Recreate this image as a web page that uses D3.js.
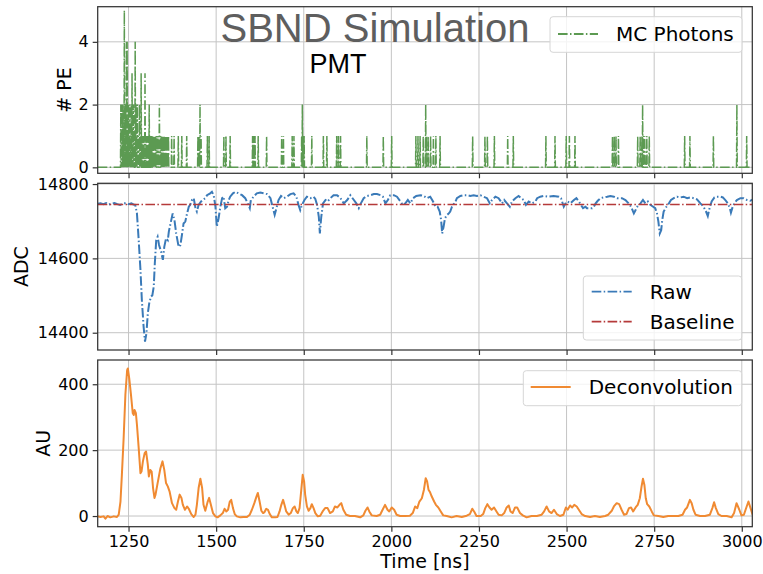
<!DOCTYPE html>
<html>
<head>
<meta charset="utf-8">
<script src="https://cdn.jsdelivr.net/npm/d3@7"></script>
<style>
  body { margin: 0; background: #fff; }
  svg text { font-family: "DejaVu Sans", sans-serif; fill: #000; }
</style>
</head>
<body>
<div id="chart"></div>
<script>
// tick values
var timeTicks = [1250, 1500, 1750, 2000, 2250, 2500, 2750, 3000];
var peTicks = [0, 2, 4];
var adcTicks = [14400, 14600, 14800];
var auTicks = [0, 200, 400];

// MC photons: [time ns, # PE]
var photons = [
  [1228,2],[1230,1],[1232,2],[1234,2],[1236,1],[1238,5],[1240,2],[1242,2],[1244,4],[1246,4],
  [1248,1],[1250,2],[1252,1],[1254,2],[1256,1],[1258,2],[1260,3],[1262,1],[1264,2],[1266,1],
  [1269,4],[1271,2],[1273,1],[1275,2],[1278,1],[1281,2],[1284,1],[1286,3],[1289,1],[1292,1],
  [1294,1],[1297,3],[1300,1],[1303,1],[1306,1],[1309,2],[1312,1],[1315,1],[1318,1],[1321,1],
  [1324,1],[1327,1],[1330,1],[1334,1],[1338,2],[1341,1],[1344,1],[1348,1],[1352,1],[1356,1],
  [1360,1],[1364,1],[1373,1],[1380,1],[1392,1],[1402,1],[1416,1],[1448,1],[1451,1],[1454,2],
  [1457,1],[1475,1],[1480,1],[1522,1],[1528,1],[1540,1],[1604,1],[1608,1],[1611,1],[1620,1],
  [1644,1],[1687,1],[1692,1],[1717,1],[1722,1],[1744,1],[1746,2],[1748,1],[1751,1],[1773,1],
  [1806,1],[1816,1],[1844,1],[1849,1],[1855,1],[1930,1],[1977,1],[2001,1],[2070,1],[2076,1],
  [2082,1],[2091,1],[2098,2],[2100,1],[2105,1],[2112,1],[2120,1],[2127,1],[2139,1],[2232,1],
  [2267,1],[2274,1],[2294,1],[2332,1],[2348,1],[2441,1],[2467,1],[2499,1],[2508,1],[2524,1],
  [2631,1],[2636,1],[2641,1],[2648,1],[2703,1],[2710,1],[2715,1],[2717,2],[2720,1],[2723,1],
  [2729,1],[2736,1],[2837,1],[2852,1],[2919,1],[2986,2],[3014,1]
];

// raw waveform: [time ns, ADC]
var rawWave = [
  [1162,14747],[1170,14748],[1178,14746],[1186,14749],[1194,14745],[1202,14747],[1210,14749],[1218,14746],
  [1226,14744],[1234,14747],[1242,14749],[1250,14746],[1258,14748],[1264,14745],[1269,14744],[1274,14721],
  [1279,14649],[1284,14569],[1288,14488],[1293,14416],[1297,14376],[1301,14398],[1305,14452],[1309,14479],
  [1314,14497],[1318,14501],[1322,14524],[1325,14587],[1329,14649],[1333,14658],[1337,14636],[1343,14618],
  [1348,14596],[1352,14631],[1357,14654],[1362,14649],[1365,14672],[1371,14699],[1376,14721],[1381,14703],
  [1386,14667],[1393,14631],[1398,14636],[1403,14667],[1407,14694],[1412,14699],[1417,14721],[1422,14739],
  [1426,14744],[1431,14757],[1436,14762],[1441,14735],[1445,14726],[1450,14744],[1457,14753],[1462,14757],
  [1469,14762],[1474,14770],[1483,14775],[1488,14779],[1493,14770],[1498,14739],[1502,14685],[1507,14708],
  [1512,14739],[1517,14762],[1521,14766],[1526,14735],[1531,14739],[1536,14757],[1540,14766],[1548,14775],
  [1555,14779],[1564,14775],[1574,14770],[1583,14762],[1590,14748],[1596,14735],[1599,14757],[1607,14766],
  [1616,14775],[1626,14777],[1635,14775],[1645,14773],[1655,14762],[1661,14739],[1667,14717],[1672,14735],
  [1678,14757],[1685,14768],[1693,14762],[1702,14766],[1712,14773],[1721,14775],[1729,14766],[1735,14744],
  [1740,14730],[1745,14744],[1752,14757],[1759,14766],[1769,14762],[1778,14766],[1783,14760],[1788,14744],
  [1793,14712],[1796,14667],[1800,14712],[1805,14748],[1812,14757],[1818,14753],[1826,14762],[1835,14770],
  [1845,14770],[1855,14762],[1864,14748],[1874,14757],[1883,14770],[1893,14757],[1900,14748],[1907,14735],
  [1913,14748],[1921,14762],[1931,14768],[1940,14770],[1950,14773],[1959,14773],[1969,14770],[1976,14766],
  [1983,14748],[1990,14757],[1997,14770],[2007,14770],[2016,14766],[2026,14753],[2033,14744],[2040,14748],
  [2047,14757],[2054,14748],[2062,14762],[2071,14768],[2083,14770],[2092,14768],[2102,14762],[2111,14766],
  [2119,14753],[2126,14739],[2132,14739],[2138,14726],[2142,14703],[2145,14667],[2149,14685],[2153,14708],
  [2159,14717],[2164,14721],[2168,14726],[2173,14739],[2178,14746],[2183,14753],[2187,14762],[2197,14768],
  [2206,14770],[2216,14770],[2225,14768],[2235,14770],[2244,14768],[2254,14770],[2263,14766],[2273,14762],
  [2281,14748],[2287,14757],[2297,14766],[2306,14762],[2316,14748],[2322,14757],[2330,14748],[2338,14739],
  [2344,14753],[2354,14762],[2363,14768],[2370,14762],[2378,14757],[2384,14744],[2392,14753],[2401,14748],
  [2411,14753],[2416,14762],[2425,14766],[2435,14768],[2449,14766],[2463,14768],[2478,14766],[2484,14762],
  [2492,14739],[2497,14748],[2503,14753],[2511,14748],[2521,14757],[2528,14762],[2535,14753],[2541,14744],
  [2547,14735],[2554,14739],[2558,14735],[2566,14735],[2573,14735],[2578,14739],[2583,14748],[2589,14755],
  [2597,14762],[2606,14764],[2616,14766],[2625,14768],[2635,14766],[2644,14762],[2658,14762],[2668,14757],
  [2677,14748],[2684,14739],[2692,14721],[2697,14730],[2703,14741],[2711,14748],[2718,14757],[2725,14748],
  [2732,14753],[2739,14744],[2747,14739],[2753,14735],[2758,14721],[2762,14699],[2766,14667],[2770,14676],
  [2773,14703],[2777,14726],[2785,14739],[2792,14748],[2798,14757],[2806,14762],[2815,14766],[2825,14764],
  [2834,14766],[2844,14762],[2853,14764],[2863,14762],[2872,14759],[2882,14748],[2891,14739],[2898,14726],
  [2903,14714],[2908,14735],[2914,14753],[2922,14764],[2929,14766],[2939,14766],[2946,14764],[2953,14757],
  [2960,14748],[2966,14735],[2969,14723],[2974,14739],[2980,14750],[2986,14757],[2996,14762],[3005,14762],
  [3015,14757],[3024,14755],[3032,14759]
];
var baselineADC = 14745;

// deconvolved waveform: [time ns, AU]
var deconvWave = [
  [1160,-1],[1170,-3],[1179,-1],[1184,-8],[1190,0],[1198,-4],[1208,-1],[1217,-3],[1222,4],[1227,44],
  [1231,125],[1236,236],[1241,368],[1246,443],[1248,448],[1252,418],[1257,368],[1262,312],[1265,307],[1267,322],
  [1271,312],[1274,277],[1279,206],[1284,130],[1287,135],[1291,166],[1296,191],[1300,196],[1305,156],[1308,120],
  [1312,140],[1316,135],[1320,85],[1324,55],[1327,65],[1333,100],[1341,145],[1347,166],[1352,140],[1357,100],
  [1362,90],[1367,75],[1374,39],[1381,24],[1386,19],[1391,44],[1396,65],[1401,55],[1405,34],[1411,19],
  [1417,29],[1422,22],[1429,6],[1436,-3],[1441,4],[1445,34],[1450,85],[1455,113],[1460,85],[1464,34],
  [1469,16],[1476,44],[1480,55],[1485,34],[1491,9],[1498,-1],[1504,-4],[1512,2],[1519,9],[1524,22],
  [1529,14],[1534,19],[1539,44],[1543,49],[1548,24],[1553,6],[1559,-1],[1569,-4],[1578,-3],[1588,-3],
  [1596,4],[1602,19],[1609,39],[1615,59],[1619,70],[1624,44],[1629,16],[1634,9],[1638,12],[1643,22],
  [1648,19],[1653,6],[1659,-4],[1669,-4],[1675,-3],[1681,14],[1686,34],[1691,49],[1695,34],[1700,14],
  [1707,4],[1713,9],[1719,24],[1724,29],[1729,14],[1733,9],[1738,24],[1743,80],[1747,125],[1751,105],
  [1754,65],[1759,29],[1764,16],[1769,24],[1773,36],[1778,24],[1783,9],[1790,-1],[1797,1],[1805,16],
  [1811,24],[1818,24],[1825,9],[1833,14],[1839,29],[1846,26],[1852,34],[1857,39],[1863,19],[1871,4],
  [1882,0],[1896,0],[1911,-4],[1920,2],[1926,16],[1932,26],[1937,14],[1944,2],[1958,0],[1968,4],
  [1975,19],[1982,34],[1989,19],[1994,14],[2001,26],[2008,19],[2015,4],[2025,0],[2039,0],[2053,1],
  [2061,9],[2068,29],[2074,24],[2080,44],[2087,54],[2093,80],[2098,115],[2102,105],[2106,80],[2110,73],
  [2115,60],[2122,44],[2127,34],[2134,26],[2141,14],[2148,2],[2158,0],[2172,-4],[2186,0],[2201,-3],
  [2215,1],[2224,6],[2231,22],[2237,12],[2243,0],[2255,0],[2262,6],[2268,24],[2274,36],[2280,26],
  [2286,19],[2293,26],[2300,14],[2306,4],[2315,2],[2322,9],[2329,26],[2335,32],[2340,14],[2346,9],
  [2353,26],[2359,26],[2367,9],[2375,2],[2386,-4],[2400,0],[2415,0],[2429,4],[2436,14],[2443,29],
  [2450,14],[2457,9],[2464,19],[2472,6],[2481,0],[2491,4],[2498,26],[2503,19],[2510,32],[2516,26],
  [2522,34],[2529,29],[2535,19],[2543,6],[2553,0],[2567,-3],[2581,0],[2595,-3],[2610,0],[2619,4],
  [2629,16],[2635,29],[2643,39],[2650,36],[2657,19],[2664,4],[2671,6],[2678,24],[2684,26],[2690,14],
  [2697,26],[2703,34],[2709,54],[2714,90],[2718,113],[2722,95],[2726,54],[2730,36],[2736,29],[2743,14],
  [2749,2],[2762,0],[2776,-3],[2790,0],[2805,0],[2819,0],[2831,4],[2838,19],[2844,26],[2852,49],
  [2857,39],[2862,19],[2868,4],[2881,0],[2895,0],[2909,4],[2916,24],[2921,42],[2926,24],[2933,6],
  [2942,0],[2957,0],[2971,-4],[2978,9],[2985,39],[2993,19],[2999,2],[3006,4],[3014,29],[3019,44],
  [3025,24],[3031,4]
];

// layout
var W = 763, H = 574;
var plotLeft = 97.7, plotRight = 752.3;
var dashDot = "9.6,2.4,1.5,2.4";

var svg = d3.select("#chart")
  .append("svg")
    .attr("width", W)
    .attr("height", H);

var x = d3.scaleLinear()
    .domain([1162, 3030])
    .range([plotLeft, plotRight]);

var yPE = d3.scaleLinear().domain([-0.19, 5.12]).range([173.3, 6.7]);
var yADC = d3.scaleLinear().domain([14353.5, 14802]).range([350, 183.3]);
var yAU = d3.scaleLinear().domain([-32.4, 473.6]).range([526.7, 360]);

function drawFrame(y, ticks, idx, showTimeLabels) {
  var top = y.range()[1], bottom = y.range()[0];
  var g = svg.append("g");

  // clip
  svg.append("clipPath").attr("id", "clip" + idx)
    .append("rect")
      .attr("x", plotLeft).attr("y", top)
      .attr("width", plotRight - plotLeft).attr("height", bottom - top);

  // grid
  g.selectAll(".vgrid").data(timeTicks).enter().append("line")
    .attr("x1", function(d) { return x(d); }).attr("x2", function(d) { return x(d); })
    .attr("y1", top).attr("y2", bottom)
    .attr("stroke", "#c4c4c4").attr("stroke-width", 1);
  g.selectAll(".hgrid").data(ticks).enter().append("line")
    .attr("x1", plotLeft).attr("x2", plotRight)
    .attr("y1", function(d) { return y(d); }).attr("y2", function(d) { return y(d); })
    .attr("stroke", "#c4c4c4").attr("stroke-width", 1);

  // axes
  var xa = svg.append("g")
      .attr("transform", "translate(0," + bottom + ")")
      .call(d3.axisBottom(x).tickValues(timeTicks).tickSize(5).tickPadding(4)
            .tickFormat(showTimeLabels ? d3.format("d") : ""));
  var ya = svg.append("g")
      .attr("transform", "translate(" + plotLeft + ",0)")
      .call(d3.axisLeft(y).tickValues(ticks).tickSize(5).tickPadding(4).tickFormat(d3.format("d")));
  [xa, ya].forEach(function(a) {
    a.select(".domain").remove();
    a.selectAll(".tick line").attr("stroke", "#333").attr("stroke-width", 1.2);
    a.selectAll("text").attr("font-size", 16).attr("font-family", "DejaVu Sans").attr("fill", "#111");
  });
  return {g: g, top: top, bottom: bottom};
}

function drawBorder(f) {
  svg.append("rect")
    .attr("x", plotLeft).attr("y", f.top)
    .attr("width", plotRight - plotLeft).attr("height", f.bottom - f.top)
    .attr("fill", "none").attr("stroke", "#333").attr("stroke-width", 1.25);
}

function legendBox(x0, y0, w, h) {
  svg.append("rect")
    .attr("x", x0).attr("y", y0).attr("width", w).attr("height", h)
    .attr("rx", 3)
    .attr("fill", "#fff").attr("fill-opacity", 0.8)
    .attr("stroke", "#d6d6d6").attr("stroke-width", 1);
}

function legendItem(x0, y0, color, dash, label) {
  svg.append("line")
    .attr("x1", x0).attr("x2", x0 + 40).attr("y1", y0).attr("y2", y0)
    .attr("stroke", color).attr("stroke-width", 1.8)
    .attr("stroke-dasharray", dash);
  svg.append("text")
    .attr("x", x0 + 58).attr("y", y0 + 7)
    .attr("font-size", 20)
    .text(label);
}

// ---------- panel 1: MC photons ----------
var f1 = drawFrame(yPE, peTicks, 1, false);

// title text
svg.append("text")
  .attr("x", 375).attr("y", 42)
  .attr("text-anchor", "middle")
  .style("font-family", "'Liberation Sans', Arial, sans-serif")
  .style("fill", "#5e5e5e")
  .attr("font-size", 40)
  .text("SBND Simulation");
svg.append("text")
  .attr("x", 338).attr("y", 73)
  .attr("text-anchor", "middle")
  .style("font-family", "'Liberation Sans', Arial, sans-serif")
  .attr("font-size", 27)
  .text("PMT");

var photonPts = [[1162, 0]];
photons.forEach(function(p) {
  photonPts.push([p[0] - 1, 0], [p[0], p[1]], [p[0] + 1, 0]);
});
photonPts.push([3030, 0]);

svg.append("path")
  .datum(photonPts)
  .attr("clip-path", "url(#clip1)")
  .attr("fill", "none")
  .attr("stroke", "#5c9a52")
  .attr("stroke-width", 1.5)
  .attr("stroke-dasharray", dashDot)
  .attr("d", d3.line().x(function(d) { return x(d[0]); }).y(function(d) { return yPE(d[1]); }));
drawBorder(f1);

legendBox(550, 16.7, 192, 35.6);
legendItem(558, 34, "#5c9a52", dashDot, "MC Photons");

svg.append("text")
  .attr("transform", "translate(71," + (f1.top + f1.bottom) / 2 + ") rotate(-90)")
  .attr("text-anchor", "middle")
  .attr("font-size", 19)
  .text("# PE");

// ---------- panel 2: raw + baseline ----------
var f2 = drawFrame(yADC, adcTicks, 2, false);

svg.append("path")
  .datum(rawWave)
  .attr("clip-path", "url(#clip2)")
  .attr("fill", "none")
  .attr("stroke", "#3a7ab8")
  .attr("stroke-width", 2)
  .attr("stroke-dasharray", dashDot)
  .attr("d", d3.line().x(function(d) { return x(d[0]); }).y(function(d) { return yADC(d[1]); }));

svg.append("line")
  .attr("clip-path", "url(#clip2)")
  .attr("x1", x(1162)).attr("x2", x(3030))
  .attr("y1", yADC(baselineADC)).attr("y2", yADC(baselineADC))
  .attr("stroke", "#b53a3a")
  .attr("stroke-width", 1.6)
  .attr("stroke-dasharray", dashDot);
drawBorder(f2);

legendBox(583.3, 276, 158.4, 64);
legendItem(591.7, 291.7, "#3a7ab8", dashDot, "Raw");
legendItem(591.7, 321.7, "#b53a3a", dashDot, "Baseline");

svg.append("text")
  .attr("transform", "translate(28," + (f2.top + f2.bottom) / 2 + ") rotate(-90)")
  .attr("text-anchor", "middle")
  .attr("font-size", 19)
  .text("ADC");

// ---------- panel 3: deconvolution ----------
var f3 = drawFrame(yAU, auTicks, 3, true);

svg.append("path")
  .datum(deconvWave)
  .attr("clip-path", "url(#clip3)")
  .attr("fill", "none")
  .attr("stroke", "#f08a32")
  .attr("stroke-width", 2)
  .attr("stroke-linejoin", "round")
  .attr("d", d3.line().x(function(d) { return x(d[0]); }).y(function(d) { return yAU(d[1]); }));
drawBorder(f3);

legendBox(523.3, 370.7, 218.4, 35);
legendItem(530.7, 387, "#f08a32", null, "Deconvolution");

svg.append("text")
  .attr("transform", "translate(50," + (f3.top + f3.bottom) / 2 + ") rotate(-90)")
  .attr("text-anchor", "middle")
  .attr("font-size", 19)
  .text("AU");

svg.append("text")
  .attr("x", (plotLeft + plotRight) / 2).attr("y", 568)
  .attr("text-anchor", "middle")
  .attr("font-size", 19)
  .text("Time [ns]");
</script>
</body>
</html>
